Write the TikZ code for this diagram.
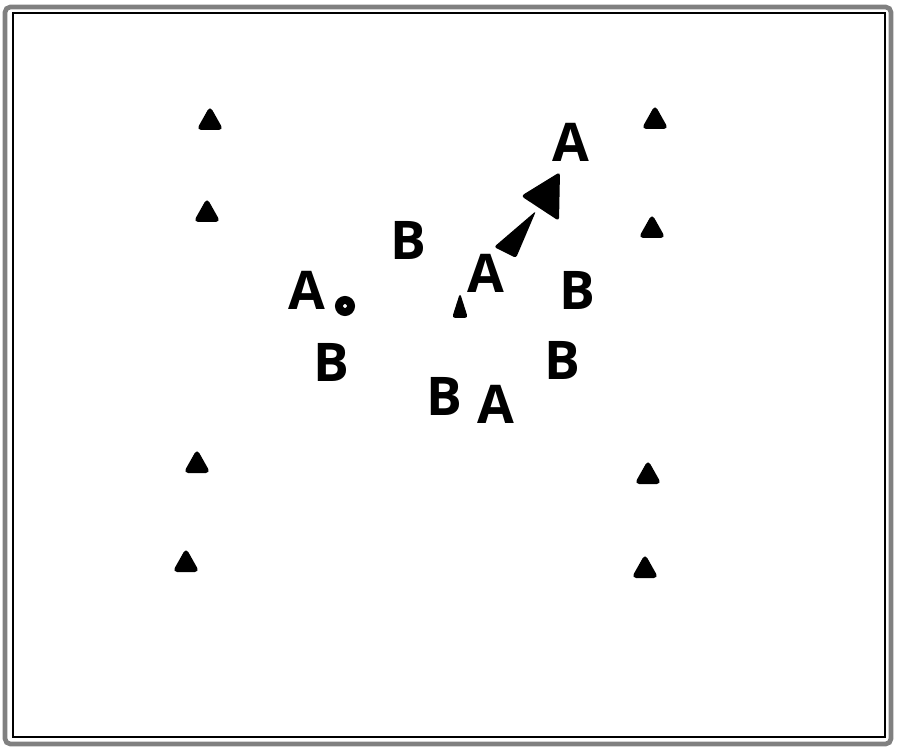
\documentclass[tikz,border=0pt]{standalone}
\usepackage{fontspec}
\newfontfamily\drillfont{Open Sans}
\usepackage{tikz}

\begin{document}
\begin{tikzpicture}[x=0.75pt,y=0.75pt,yscale=-1,xscale=1,
    player/.style={inner sep=0pt,font=\drillfont\bfseries\fontsize{40}{40}\selectfont},
    cone/.pic={\fill [rounded corners=3.5pt] (0,14) -- (13.5,-10) -- (-13.5,-10) -- cycle ;}]
    \useasboundingbox (0,0) rectangle (900,752);
    % frame
    \draw [color={rgb, 255:red, 128; green, 128; blue, 128}, line width=3.5pt, rounded corners=4pt] (5,7) rectangle (891,744);
    \draw [line width=0.8pt] (13,13) rectangle (885,737);
    % cones
    \pic (c1) at (210,120) {cone};
    \pic (c2) at (207,212) {cone};
    \pic (c3) at (197,463) {cone};
    \pic (c4) at (186,562) {cone};
    \pic (c5) at (655,119) {cone};
    \pic (c6) at (652,228) {cone};
    \pic (c7) at (648,474) {cone};
    \pic (c8) at (645,568) {cone};
    \fill [rounded corners=2.5pt] (460,293) -- (468,318) -- (452,318) -- cycle ;
    % ball
    \node [circle, draw=black, line width=6pt, minimum size=9pt, inner sep=0pt] (ball) at (345,306) {};
    % players
    \node [player] (a1) at (571,142) {A};
    \node [player] (a2) at (486,273) {A};
    \node [player] (a3) at (307,290) {A};
    \node [player] (a4) at (496,404) {A};
    \node [player] (b1) at (408,240) {B};
    \node [player] (b2) at (577,290) {B};
    \node [player] (b3) at (331,362) {B};
    \node [player] (b4) at (562,360) {B};
    \node [player] (b5) at (444,396) {B};
    % run of A
    \fill [rounded corners=2pt] (494,247) -- (536,211) -- (516,258) -- cycle ;
    \fill [rounded corners=2.5pt] (521,196) -- (560,172) -- (559,221) -- cycle ;
\end{tikzpicture}
\end{document}
